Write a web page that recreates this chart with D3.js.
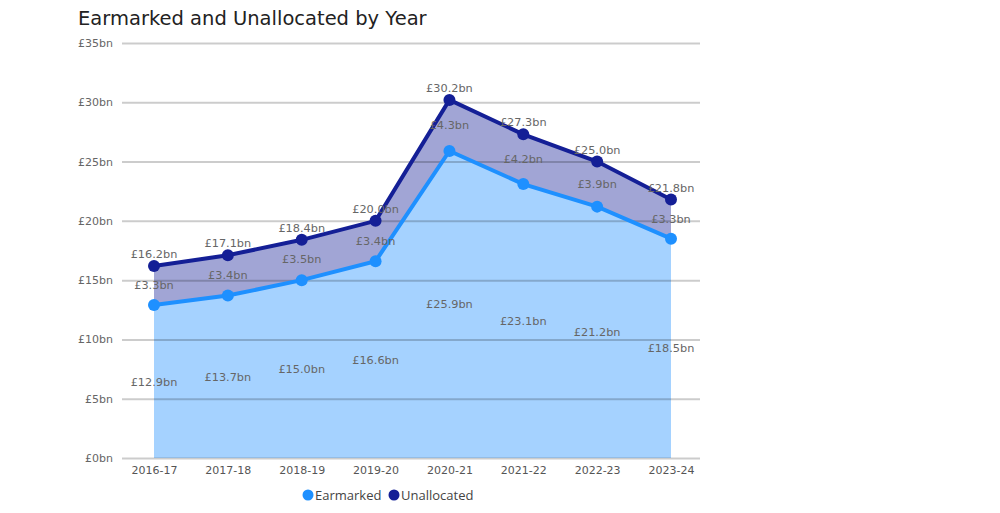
<!DOCTYPE html>
<html>
<head>
<meta charset="utf-8">
<script src="https://cdn.jsdelivr.net/npm/d3@7"></script>
<style>
  body { margin: 0; background: #fff; }
  svg text { font-family: "DejaVu Sans", Verdana, sans-serif; }
</style>
</head>
<body>
<div id="chart"></div>
<script>
// chart data
var years = ["2016-17", "2017-18", "2018-19", "2019-20", "2020-21", "2021-22", "2022-23", "2023-24"];
var earmarked = [12.9, 13.7, 15.0, 16.6, 25.9, 23.1, 21.2, 18.5];
var unallocated = [3.3, 3.4, 3.5, 3.4, 4.3, 4.2, 3.9, 3.3];
var totals = [16.2, 17.1, 18.4, 20.0, 30.2, 27.3, 25.0, 21.8];
var yTicks = [0, 5, 10, 15, 20, 25, 30, 35];

var width = 1000, height = 513;
var earColor = "#1e90ff", unColor = "#141f96";
var gridLeft = 122, gridRight = 700;

var svg = d3.select("#chart").append("svg")
  .attr("width", width)
  .attr("height", height);

var x = d3.scalePoint()
  .domain(years)
  .range([154, 671]);

var y = d3.scaleLinear()
  .domain([0, 35])
  .range([458, 43]);

var fmt = function(v) { return "£" + v.toFixed(1) + "bn"; };

// title
svg.append("text")
  .attr("x", 78)
  .attr("y", 25)
  .attr("font-size", 19.5)
  .attr("fill", "#222")
  .text("Earmarked and Unallocated by Year");

var rows = years.map(function(yr, i) {
  return { year: yr, ear: earmarked[i], un: unallocated[i], total: totals[i] };
});

// areas
var earArea = d3.area()
  .x(function(d) { return x(d.year); })
  .y0(y(0))
  .y1(function(d) { return y(d.ear); });

var unArea = d3.area()
  .x(function(d) { return x(d.year); })
  .y0(function(d) { return y(d.ear); })
  .y1(function(d) { return y(d.total); });

svg.append("path").datum(rows).attr("d", earArea).attr("fill", "#a5d2ff");
svg.append("path").datum(rows).attr("d", unArea).attr("fill", "#a1a5d5");

// y axis with grid lines
var yAxis = svg.append("g")
  .attr("transform", "translate(" + gridLeft + ",0)")
  .call(d3.axisLeft(y)
    .tickValues(yTicks)
    .tickSize(-(gridRight - gridLeft))
    .tickPadding(9)
    .tickFormat(function(d) { return "£" + d + "bn"; }));
yAxis.select(".domain").remove();
yAxis.selectAll("line").attr("stroke", "rgba(0,0,0,0.2)").attr("stroke-width", 2);
yAxis.selectAll("text").attr("font-size", 11).attr("fill", "#666").attr("font-family", "DejaVu Sans, Verdana, sans-serif");

// x axis
var xAxis = svg.append("g")
  .attr("transform", "translate(0,458)")
  .call(d3.axisBottom(x).tickSize(0).tickPadding(8));
xAxis.select(".domain").remove();
xAxis.selectAll("text").attr("font-size", 11).attr("fill", "#555").attr("font-family", "DejaVu Sans, Verdana, sans-serif");

// lines
var earLine = d3.line()
  .x(function(d) { return x(d.year); })
  .y(function(d) { return y(d.ear); });
var totLine = d3.line()
  .x(function(d) { return x(d.year); })
  .y(function(d) { return y(d.total); });

svg.append("path").datum(rows).attr("d", earLine)
  .attr("fill", "none").attr("stroke", earColor).attr("stroke-width", 4);
svg.append("path").datum(rows).attr("d", totLine)
  .attr("fill", "none").attr("stroke", unColor).attr("stroke-width", 4);

// points
svg.selectAll(".ear-pt").data(rows).enter().append("circle")
  .attr("cx", function(d) { return x(d.year); })
  .attr("cy", function(d) { return y(d.ear); })
  .attr("r", 6)
  .attr("fill", earColor);
svg.selectAll(".tot-pt").data(rows).enter().append("circle")
  .attr("cx", function(d) { return x(d.year); })
  .attr("cy", function(d) { return y(d.total); })
  .attr("r", 6)
  .attr("fill", unColor);

// labels
var labels = svg.append("g")
  .attr("font-size", 11.3)
  .attr("fill", "#666")
  .attr("text-anchor", "middle");

labels.selectAll(".ear-lbl").data(rows).enter().append("text")
  .attr("x", function(d) { return x(d.year); })
  .attr("y", function(d) { return y(d.ear / 2) + 4; })
  .text(function(d) { return fmt(d.ear); });

labels.selectAll(".un-lbl").data(rows).enter().append("text")
  .attr("x", function(d) { return x(d.year); })
  .attr("y", function(d) { return y(d.ear + d.un / 2) + 4; })
  .text(function(d) { return fmt(d.un); });

labels.selectAll(".tot-lbl").data(rows).enter().append("text")
  .attr("x", function(d) { return x(d.year); })
  .attr("y", function(d) { return y(d.total) - 8; })
  .text(function(d) { return fmt(d.total); });

// legend
var legend = svg.append("g").attr("transform", "translate(308,495)");
var items = [{ name: "Earmarked", color: earColor }, { name: "Unallocated", color: unColor }];
var offs = [0, 86];
items.forEach(function(it, i) {
  var g = legend.append("g").attr("transform", "translate(" + offs[i] + ",0)");
  g.append("circle").attr("cx", 0).attr("cy", 0).attr("r", 5.5).attr("fill", it.color);
  g.append("text")
    .attr("x", 7)
    .attr("y", 4.5)
    .attr("font-size", 13)
    .attr("fill", "#444")
    .style("font-family", "'Open Sans', sans-serif")
    .text(it.name);
});
</script>
</body>
</html>
